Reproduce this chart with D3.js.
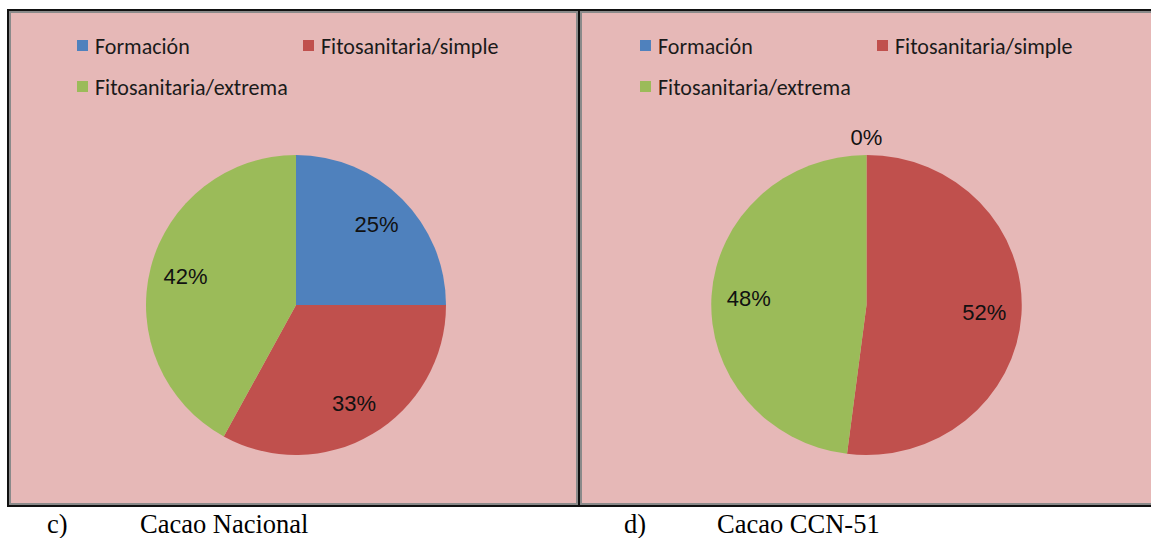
<!DOCTYPE html>
<html>
<head>
<meta charset="utf-8">
<script src="https://cdn.jsdelivr.net/npm/d3@7"></script>
<style>
  body { margin: 0; background: #fff; }
</style>
</head>
<body>
<div id="chart"></div>
<script>
// data
var categories = ["Formación", "Fitosanitaria/simple", "Fitosanitaria/extrema"];
var colors = ["#4F81BD", "#C0504D", "#9BBB59"];
var nacionalValues = [25, 33, 42];
var ccnValues = [0, 52, 48];
var captionLetters = ["c)", "d)"];
var captionNames = ["Cacao Nacional", "Cacao CCN-51"];

var width = 1151, height = 538;

var svg = d3.select("#chart").append("svg")
    .attr("width", width)
    .attr("height", height);

function drawPanel(g, x0, w, cx, values, radius, sx, legendX, legendCol) {
    // panel background + double border
    g.append("rect")
        .attr("x", x0).attr("y", 10)
        .attr("width", w).attr("height", 496)
        .style("fill", "#E6B8B7")
        .style("stroke", "#111")
        .style("stroke-width", 2);
    g.append("rect")
        .attr("x", x0 + 2).attr("y", 12)
        .attr("width", w - 4).attr("height", 492)
        .style("fill", "none")
        .style("stroke", "#8a8a8a")
        .style("stroke-width", 2);

    // legend
    var legendPos = [
        {x: legendX, y: 46},
        {x: legendX + legendCol, y: 46},
        {x: legendX, y: 87}
    ];
    var legend = g.selectAll(".leg").data(categories).enter().append("g")
        .attr("transform", function(d, i) { return "translate(" + legendPos[i].x + "," + legendPos[i].y + ")"; });
    legend.append("rect")
        .attr("x", 0).attr("y", -6)
        .attr("width", 11).attr("height", 11)
        .style("fill", function(d, i) { return colors[i]; });
    legend.append("text")
        .attr("x", 18).attr("y", 0)
        .attr("dy", "0.35em")
        .style("font-family", "Carlito, 'Open Sans', sans-serif")
        .style("font-size", "22px")
        .style("fill", "#1a1a1a")
        .text(function(d) { return d; });

    // pie
    var pie = d3.pie().sort(null).value(function(d) { return d; });
    var arcs = pie(values);
    var arc = d3.arc().innerRadius(0).outerRadius(radius);
    var labelArc = d3.arc().innerRadius(radius * 0.76).outerRadius(radius * 0.76);

    var pg = g.append("g").attr("transform", "translate(" + cx + ",305)");
    pg.append("g").attr("transform", "scale(" + sx + ",1)")
      .selectAll("path").data(arcs).enter().append("path")
        .attr("d", arc)
        .style("fill", function(d, i) { return colors[i]; });

    pg.selectAll("text").data(arcs).enter().append("text")
        .attr("transform", function(d) {
            var c;
            if (d.value === 0) {
                var a = d.startAngle;
                c = [Math.sin(a) * (radius + 18), -Math.cos(a) * (radius + 18)];
            } else {
                c = labelArc.centroid(d);
            }
            return "translate(" + (c[0] * sx) + "," + c[1] + ")";
        })
        .attr("text-anchor", "middle")
        .attr("dy", "0.35em")
        .style("font-family", "'Liberation Sans', Arial, sans-serif")
        .style("font-size", "22px")
        .style("fill", "#111")
        .text(function(d) { return d.value + "%"; });
}

var left = svg.append("g");
drawPanel(left, 8, 571, 296, nacionalValues, 150, 1, 77, 226);
var right = svg.append("g");
drawPanel(right, 579, 580, 866.5, ccnValues, 150, 1.035, 640, 237);

// captions under the panels
var capX = [47, 624], nameX = [140, 717];
captionLetters.forEach(function(c, i) {
    svg.append("text")
        .attr("x", capX[i]).attr("y", 533)
        .style("font-family", "'Liberation Serif', 'Times New Roman', serif")
        .style("font-size", "26.5px")
        .text(c);
    svg.append("text")
        .attr("x", nameX[i]).attr("y", 533)
        .style("font-family", "'Liberation Serif', 'Times New Roman', serif")
        .style("font-size", "26.5px")
        .text(captionNames[i]);
});
</script>
</body>
</html>
